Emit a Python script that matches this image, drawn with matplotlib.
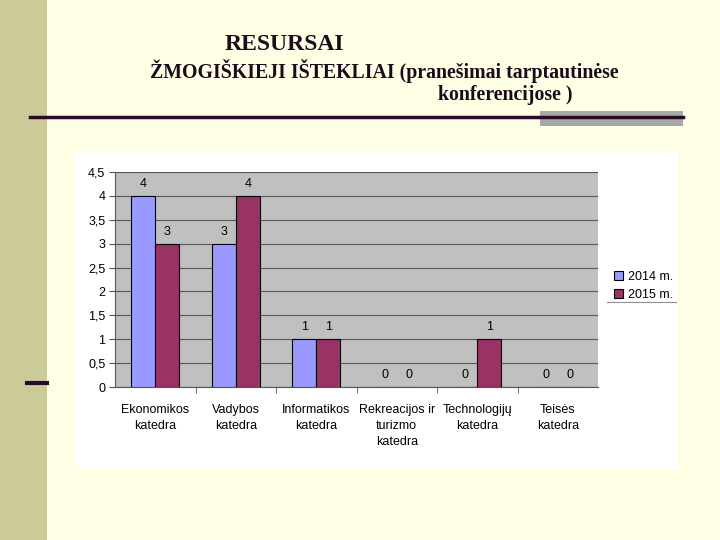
import numpy as np
import matplotlib.pyplot as plt
from matplotlib.patches import Rectangle
from matplotlib.lines import Line2D

# Data
categories = ['Ekonomikos\nkatedra', 'Vadybos\nkatedra', 'Informatikos\nkatedra',
              'Rekreacijos ir\nturizmo\nkatedra', 'Technologijų\nkatedra', 'Teisės\nkatedra']
y2014 = [4, 3, 1, 0, 0, 0]
y2015 = [3, 4, 1, 0, 1, 0]
series_names = ['2014 m.', '2015 m.']
yticks = np.arange(0, 4.51, 0.5)

plt.rcParams['font.family'] = ['Liberation Sans', 'DejaVu Sans']

fig = plt.figure(figsize=(7.2, 5.4), dpi=100)
fig.patch.set_facecolor('#FFFFE6')

# slide decorations
fig.patches.append(Rectangle((0, 0), 47 / 720, 1, transform=fig.transFigure,
                             facecolor='#CBCB9A', edgecolor='none', zorder=0))
fig.patches.append(Rectangle((540 / 720, 1 - 126 / 540), 143 / 720, 15 / 540,
                             transform=fig.transFigure, facecolor='#A8A8A8',
                             edgecolor='none', zorder=1))
fig.lines.append(Line2D([30 / 720, 683 / 720], [1 - 117 / 540] * 2, transform=fig.transFigure,
                        color='#2A0A2A', linewidth=2.5, zorder=2))
fig.lines.append(Line2D([27 / 720, 47 / 720], [1 - 383 / 540] * 2, transform=fig.transFigure,
                        color='#2A0A2A', linewidth=3, zorder=2))

# title
title_kw = dict(family='Liberation Serif', weight='bold', color='#1A0A1A')
fig.text(225 / 720, 1 - 44 / 540, 'RESURSAI', fontsize=17, va='center', ha='left', **title_kw)
fig.text(150 / 720, 1 - 71 / 540, 'ŽMOGIŠKIEJI IŠTEKLIAI (pranešimai tarptautinėse',
         fontsize=14.3, va='center', ha='left', **title_kw)
fig.text(438 / 720, 1 - 95 / 540, 'konferencijose )', fontsize=14.3, va='center', ha='left', **title_kw)

# white chart box
fig.patches.append(Rectangle((76 / 720, 1 - 468 / 540), 602 / 720, 316 / 540,
                             transform=fig.transFigure, facecolor='white',
                             edgecolor='none', zorder=1))
fig.lines.append(Line2D([607 / 720, 676 / 720], [1 - 302 / 540] * 2, transform=fig.transFigure,
                        color='#909090', linewidth=0.8, zorder=4))

ax = fig.add_axes([115 / 720, 1 - 387 / 540, 483 / 720, 215 / 540])
ax.set_zorder(3)
ax.set_facecolor('#C0C0C0')

x = np.arange(len(categories))
w = 0.3
b1 = ax.bar(x - w / 2, y2014, w, color='#9999FF', edgecolor='black', linewidth=0.8,
            label=series_names[0], zorder=3)
b2 = ax.bar(x + w / 2, y2015, w, color='#993366', edgecolor='black', linewidth=0.8,
            label=series_names[1], zorder=3)

for bars, vals in [(b1, y2014), (b2, y2015)]:
    for bar, v in zip(bars, vals):
        ax.text(bar.get_x() + bar.get_width() / 2, v + 0.12, str(v),
                ha='center', va='bottom', fontsize=9)

ax.set_xlim(-0.5, len(categories) - 0.5)
ax.set_ylim(0, 4.5)
ax.set_yticks(yticks)
ax.set_yticklabels([f'{t:g}'.replace('.', ',') for t in yticks], fontsize=9)
ax.yaxis.grid(True, color='#555555', linewidth=0.8, zorder=1)
ax.set_axisbelow(True)

ax.set_xticks(x)
ax.set_xticklabels(categories, fontsize=9, linespacing=1.45)
ax.set_xticks(np.arange(0.5, len(categories) - 0.5), minor=True)
ax.tick_params(axis='x', which='major', length=0, pad=12)
ax.tick_params(axis='x', which='minor', length=4, color='#555555')
ax.tick_params(axis='y', length=4, color='#555555', pad=3)

for s in ['top', 'right']:
    ax.spines[s].set_visible(False)
ax.spines['left'].set_color('#555555')
ax.spines['bottom'].set_color('#555555')

ax.legend(loc='center left', bbox_to_anchor=(1.01, 0.47), frameon=False, fontsize=9,
          handlelength=0.7, handleheight=0.7, handletextpad=0.4, labelspacing=0.5)

fig.savefig('out.png', dpi=100, facecolor=fig.get_facecolor())
